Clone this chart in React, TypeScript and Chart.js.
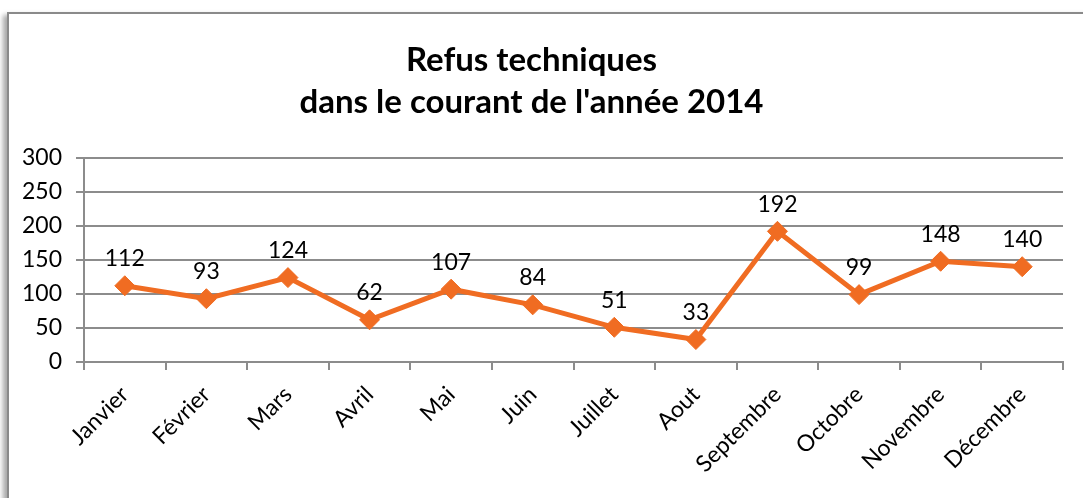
import React, { useEffect, useRef } from "react";
import { Chart, registerables } from "chart.js";

Chart.register(...registerables);

const titleLines = ["Refus techniques", "dans le courant de l'année 2014"];
const months = [
  "Janvier",
  "Février",
  "Mars",
  "Avril",
  "Mai",
  "Juin",
  "Juillet",
  "Aout",
  "Septembre",
  "Octobre",
  "Novembre",
  "Décembre",
];
const refusValues = [112, 93, 124, 62, 107, 84, 51, 33, 192, 99, 148, 140];
const yMin = 0;
const yMax = 300;
const yStep = 50;

const FONT = "Lato, 'Open Sans', 'Liberation Sans', sans-serif";

const dataLabelPlugin = {
  id: "dataLabels",
  afterDatasetsDraw(chart: any) {
    const ctx = chart.ctx;
    chart.data.datasets.forEach((ds: any, i: number) => {
      const meta = chart.getDatasetMeta(i);
      ctx.save();
      ctx.font = `23px ${FONT}`;
      ctx.fillStyle = "#000";
      ctx.textAlign = "center";
      ctx.textBaseline = "middle";
      meta.data.forEach((pt: any, j: number) => {
        ctx.fillText(String(ds.data[j]), pt.x, pt.y - 27);
      });
      ctx.restore();
    });
  },
};

export default function App() {
  const ref = useRef<HTMLCanvasElement | null>(null);

  useEffect(() => {
    if (!ref.current) return;
    const chart = new Chart(ref.current, {
      type: "line",
      data: {
        labels: months,
        datasets: [
          {
            data: refusValues,
            borderColor: "#F06C22",
            backgroundColor: "#F06C22",
            borderWidth: 5,
            pointStyle: "rectRot",
            pointRadius: 10,
            pointBorderWidth: 1,
            pointBackgroundColor: "#F06C22",
            pointBorderColor: "#F06C22",
            tension: 0,
          },
        ],
      },
      options: {
        responsive: false,
        animation: false,
        devicePixelRatio: 1,
        layout: { padding: { top: 0, right: 20, bottom: 0, left: 0 } },
        plugins: {
          legend: { display: false },
          tooltip: { enabled: false },
          title: {
            display: true,
            text: titleLines,
            color: "#000",
            font: { family: FONT, size: 33, weight: "bold", lineHeight: 1.27 },
            padding: { top: 39, bottom: 35 },
          },
        },
        scales: {
          x: {
            type: "category",
            offset: true,
            grid: {
              offset: true,
              drawOnChartArea: false,
              drawTicks: true,
              tickLength: 8,
              color: "#8c8c8c",
              lineWidth: 2,
            },
            border: { display: true, color: "#8c8c8c", width: 2 },
            ticks: {
              color: "#000",
              font: { family: FONT, size: 23 },
              minRotation: 45,
              maxRotation: 45,
              autoSkip: false,
              padding: 11,
            },
            afterFit: (scale: any) => {
              scale.height = 136;
            },
          },
          y: {
            min: yMin,
            max: yMax,
            grid: {
              color: "#8c8c8c",
              lineWidth: 2,
              tickLength: 8,
              drawTicks: true,
            },
            border: { display: true, color: "#8c8c8c", width: 2 },
            ticks: {
              stepSize: yStep,
              color: "#000",
              font: { family: FONT, size: 23 },
              padding: 14,
            },
            afterFit: (scale: any) => {
              scale.width = 84;
            },
          },
        },
      },
      plugins: [dataLabelPlugin],
    });
    return () => chart.destroy();
  }, []);

  return (
    <div
      style={{
        position: "fixed",
        left: 0,
        top: 0,
        width: 1083,
        height: 498,
        overflow: "hidden",
        background: "#fff",
      }}
    >
      <div
        style={{
          position: "absolute",
          left: 7,
          top: 12,
          width: 1200,
          height: 600,
          border: "2px solid #8a8a8a",
          boxShadow: "-4px 3px 5px rgba(0,0,0,0.35)",
          background: "#fff",
        }}
      />
      <canvas
        ref={ref}
        width={1083}
        height={498}
        style={{ position: "absolute", left: 0, top: 0 }}
      />
    </div>
  );
}
